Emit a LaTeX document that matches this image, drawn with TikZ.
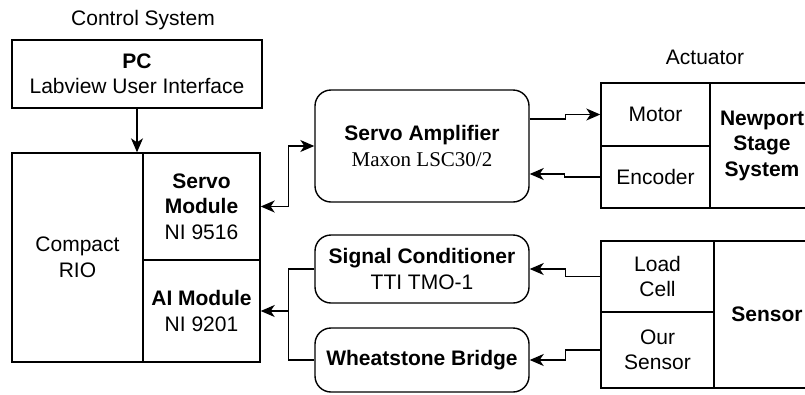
\documentclass[tikz,border=0pt]{standalone}
\usepackage{fontspec}
\setmainfont{Liberation Sans}
\newfontfamily\timesf{Liberation Serif}
\usetikzlibrary{arrows.meta,calc}
\begin{document}
\begin{tikzpicture}[x=1pt,y=-1pt,
  every node/.style={font=\fontsize{21}{25.5}\selectfont, align=center, inner sep=0pt},
  blk/.style={draw, line width=1.4pt, rectangle, anchor=center},
  rblk/.style={blk, rounded corners=16pt},
  lbl/.style={anchor=center},
  conn/.style={line width=1.4pt},
  tip/.style={-{Stealth[length=14pt,width=12pt,inset=4pt]}},
  tips/.style={{Stealth[length=14pt,width=12pt,inset=4pt]}-{Stealth[length=14pt,width=12pt,inset=4pt]}}
]
\useasboundingbox (0,0) rectangle (805,394);
\clip (0,0) rectangle (805,394);
\fill[white] (0,0) rectangle (805,394);

% labels
\node[lbl] (cslbl) at (143,20) {Control System};
\node[lbl] (aclbl) at (705,57) {Actuator};

% Control system
\node[blk, minimum width=250pt, minimum height=68pt] (pc) at (137,74) {{\bfseries PC}\\Labview User Interface};
\node[blk, minimum width=131pt, minimum height=209pt] (crio) at (77.5,257.5) {Compact\\RIO};
\node[blk, minimum width=117pt, minimum height=107pt] (sm) at (201.5,206.5) {{\bfseries Servo}\\{\bfseries Module}\\NI 9516};
\node[blk, minimum width=117pt, minimum height=102pt] (ai) at (201.5,311) {{\bfseries AI Module}\\NI 9201};

% middle
\node[rblk, minimum width=214pt, minimum height=112pt] (amp) at (422,146) {{\bfseries Servo Amplifier}\\{\timesf Maxon LSC30/2}};
\node[rblk, minimum width=214pt, minimum height=68pt] (sc) at (422,269) {{\bfseries Signal Conditioner}\\TTI TMO-1};
\node[rblk, minimum width=214pt, minimum height=64pt] (wb) at (422,360) {{\bfseries Wheatstone Bridge}};

% actuator
\node[blk, minimum width=109pt, minimum height=63pt] (motor) at (655.5,114.5) {Motor};
\node[blk, minimum width=109pt, minimum height=62pt] (enc) at (655.5,177) {Encoder};
\node[blk, minimum width=104pt, minimum height=125pt] (nst) at (762,145.5) {{\bfseries Newport}\\{\bfseries Stage}\\{\bfseries System}};

% sensor
\node[blk, minimum width=113pt, minimum height=71pt] (lc) at (657.5,276.5) {Load\\Cell};
\node[blk, minimum width=113pt, minimum height=76pt] (os) at (657.5,350) {Our\\Sensor};
\node[blk, minimum width=106pt, minimum height=147pt] (sen) at (767,314.5) {{\bfseries Sensor}};

% connectors
\draw[conn,tip] (pc.south) -- (pc.south |- crio.north);
\draw[conn,tips] (sm.east) -- ++(28pt,0) |- (amp.west);
\draw[conn,tip] ([yshift=27pt]amp.east) -- ++(36pt,0) |- (motor.west);
\draw[conn,tip] (enc.west) -- ++(-36pt,0) |- ([yshift=-28pt]amp.east);
\draw[conn,tip] (lc.west) -- ++(-35pt,0) |- (sc.east);
\draw[conn,tip] (os.west) -- ++(-35pt,0) |- (wb.east);
\coordinate (jn) at ([xshift=28pt]ai.east);
\draw[conn] (sc.west) -| (jn) |- (wb.west);
\draw[conn,tip] (jn) -- (ai.east);
\end{tikzpicture}
\end{document}
